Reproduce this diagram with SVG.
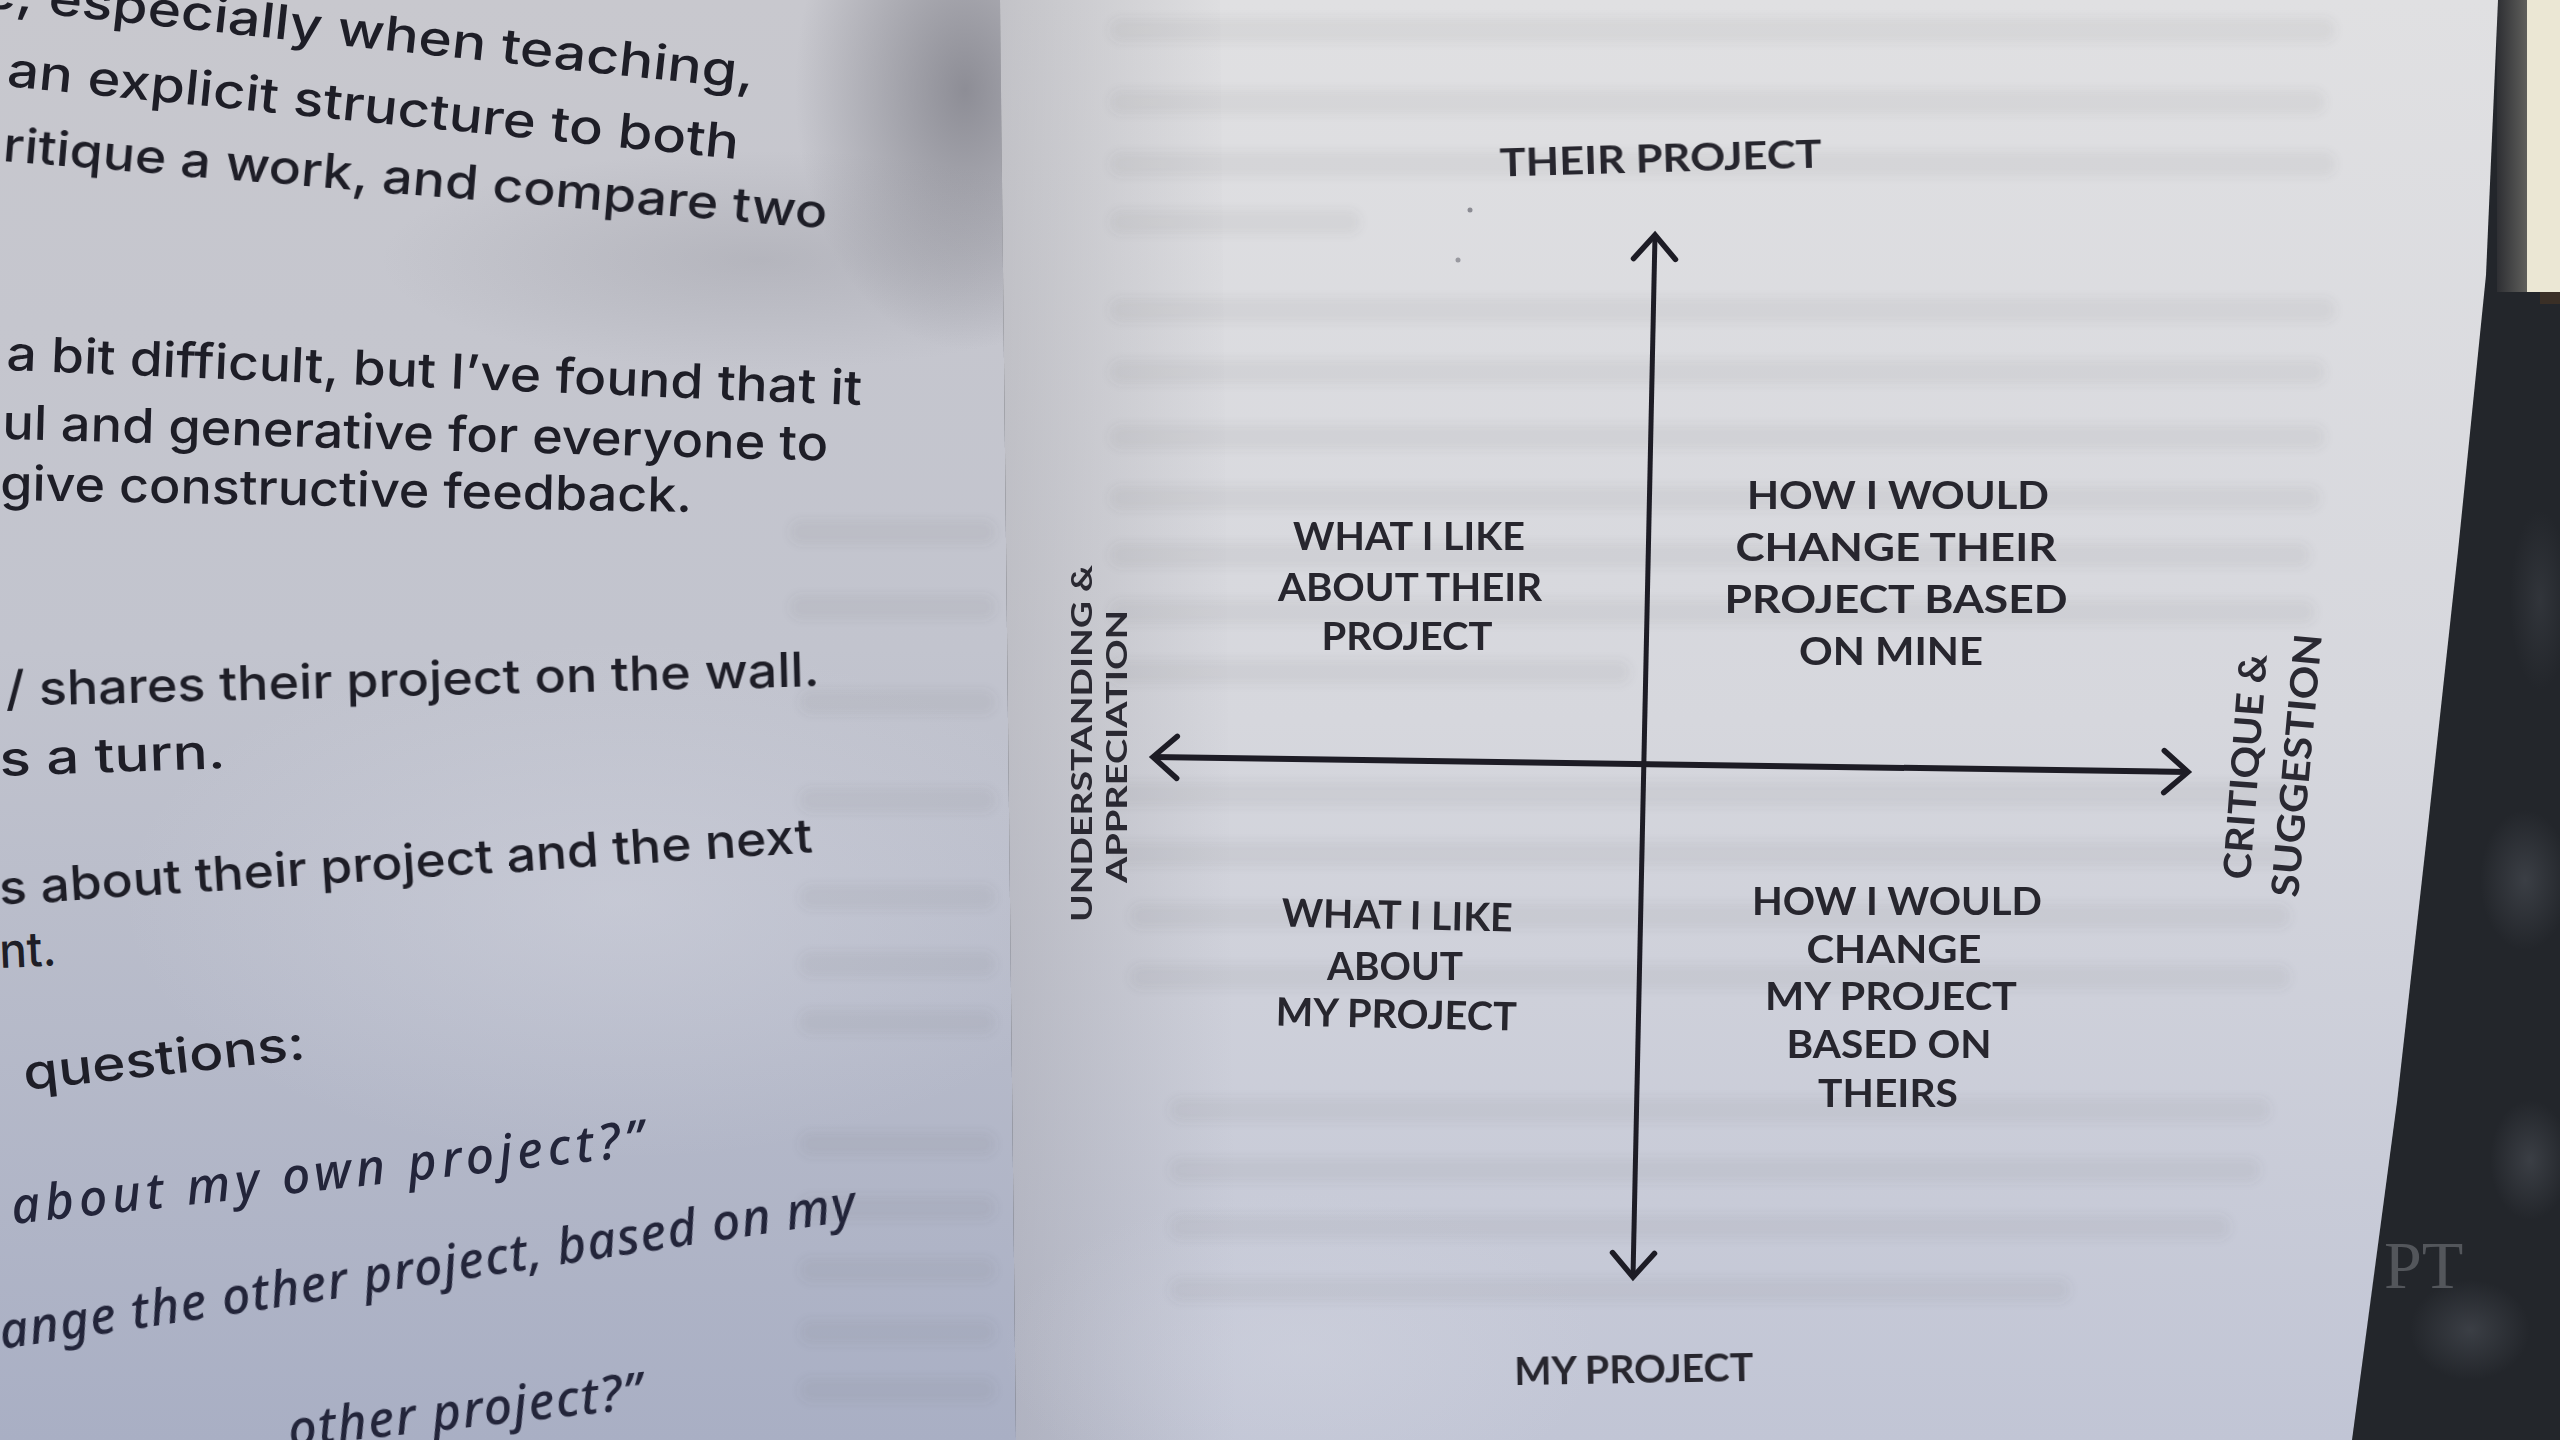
<svg xmlns="http://www.w3.org/2000/svg" width="2560" height="1440" viewBox="0 0 2560 1440">
  <style>
    .body { font-family: Inter, "Liberation Sans", sans-serif; font-weight: 500; font-size: 48px; fill: #1e1e27; }
    .ital { font-family: "Noto Sans", "Open Sans", sans-serif; font-style: italic; font-weight: 500; font-size: 50px; fill: #23253a; }
    .lbl { font-family: Lato, "Noto Sans", sans-serif; font-weight: 700; font-size: 39px; fill: #27262e; text-anchor: middle; }
    .side { font-family: Lato, "Noto Sans", sans-serif; font-weight: 700; fill: #2a2932; text-anchor: middle; }
    .axis { fill: none; stroke: #1d1c25; }
    .ghost { fill: #4e4e5e; opacity: 0.07; }
  </style>
  <defs>
    <linearGradient id="leftPage" x1="0" y1="0" x2="0" y2="1">
      <stop offset="0" stop-color="#c8c8ce"/>
      <stop offset="0.45" stop-color="#c2c4ce"/>
      <stop offset="1" stop-color="#a9afc4"/>
    </linearGradient>
    <linearGradient id="rightPage" x1="0" y1="0" x2="0" y2="1">
      <stop offset="0" stop-color="#e0e0e2"/>
      <stop offset="0.5" stop-color="#d6d7dd"/>
      <stop offset="1" stop-color="#c1c5d5"/>
    </linearGradient>
    <linearGradient id="gutterRight" x1="0" y1="0" x2="1" y2="0">
      <stop offset="0" stop-color="#8c8c96" stop-opacity="0.35"/>
      <stop offset="1" stop-color="#8c8c96" stop-opacity="0"/>
    </linearGradient>
    <radialGradient id="shadowBlob" cx="0.5" cy="0.5" r="0.5">
      <stop offset="0" stop-color="#7a7a83" stop-opacity="0.75"/>
      <stop offset="1" stop-color="#7a7a83" stop-opacity="0"/>
    </radialGradient>
    <radialGradient id="lightBlob" cx="0.5" cy="0.5" r="0.5">
      <stop offset="0" stop-color="#d6d8e2" stop-opacity="0.7"/>
      <stop offset="1" stop-color="#d6d8e2" stop-opacity="0"/>
    </radialGradient>
    <radialGradient id="clothLight" cx="0.5" cy="0.5" r="0.5">
      <stop offset="0" stop-color="#454950" stop-opacity="0.7"/>
      <stop offset="1" stop-color="#454950" stop-opacity="0"/>
    </radialGradient>
    <linearGradient id="edgeShade" x1="0" y1="0" x2="1" y2="0">
      <stop offset="0" stop-color="#2e2f33"/>
      <stop offset="1" stop-color="#5f5f5c"/>
    </linearGradient>
    <filter id="soft" x="-10%" y="-50%" width="120%" height="200%">
      <feGaussianBlur stdDeviation="5"/>
    </filter>
    <marker id="chevron" markerUnits="userSpaceOnUse" viewBox="-40 -30 50 60" markerWidth="50" markerHeight="60" refX="0" refY="0" orient="auto-start-reverse">
      <path d="M -24 -21 L 0 0 L -24 21" fill="none" stroke="#1d1c25" stroke-width="5.5" stroke-linecap="round" stroke-linejoin="miter"/>
    </marker>
  </defs>

  <!-- surroundings: dark cloth, cream strip top right -->
  <g id="background">
    <rect x="0" y="0" width="2560" height="1440" fill="#23262b"/>
    <rect x="2527" y="0" width="33" height="292" fill="#ebe7d4"/>
    <rect x="2497" y="0" width="30" height="292" fill="url(#edgeShade)"/>
    <rect x="2540" y="292" width="20" height="12" fill="#3a2f26"/>
    <ellipse cx="2525" cy="880" rx="45" ry="70" fill="url(#clothLight)"/>
    <ellipse cx="2530" cy="1160" rx="40" ry="60" fill="url(#clothLight)"/>
    <ellipse cx="2470" cy="1330" rx="60" ry="50" fill="url(#clothLight)"/>
    <ellipse cx="2540" cy="600" rx="30" ry="90" fill="url(#clothLight)" opacity="0.6"/>
    <text x="2384" y="1288" font-family="Liberation Serif, serif" font-size="68" fill="#8d9096" opacity="0.45">PT</text>

    <!-- left (facing) page -->
    <polygon points="0,0 1000,0 1016,1440 0,1440" fill="url(#leftPage)"/>
    <ellipse cx="965" cy="90" rx="170" ry="260" fill="url(#shadowBlob)"/>
    <ellipse cx="760" cy="260" rx="380" ry="110" fill="url(#shadowBlob)" opacity="0.3"/>
    <ellipse cx="620" cy="900" rx="500" ry="260" fill="url(#lightBlob)" opacity="0.6"/>

    <!-- right page with the diagram -->
    <polygon points="1000,0 2498,0 2486,275 2458,551 2428,826 2397,1102 2352,1440 1016,1440" fill="url(#rightPage)"/>
    <polygon points="1000,0 1220,0 1236,1440 1016,1440" fill="url(#gutterRight)"/>
    <ellipse cx="1300" cy="1350" rx="300" ry="160" fill="url(#lightBlob)" opacity="0.5"/>
  </g>

  <!-- faint print showing through from the reverse side -->
  <g id="show-through" filter="url(#soft)">
    <rect class="ghost" x="1110" y="18" width="1225" height="24" rx="10"/>
    <rect class="ghost" x="1110" y="90" width="1215" height="24" rx="10"/>
    <rect class="ghost" x="1110" y="152" width="1225" height="24" rx="10"/>
    <rect class="ghost" x="1110" y="210" width="250" height="24" rx="10"/>
    <rect class="ghost" x="1110" y="298" width="1225" height="24" rx="10"/>
    <rect class="ghost" x="1110" y="360" width="1215" height="24" rx="10"/>
    <rect class="ghost" x="1110" y="425" width="1215" height="24" rx="10"/>
    <rect class="ghost" x="1110" y="486" width="1210" height="24" rx="10"/>
    <rect class="ghost" x="1110" y="543" width="1200" height="24" rx="10"/>
    <rect class="ghost" x="1110" y="600" width="1205" height="24" rx="10"/>
    <rect class="ghost" x="1110" y="660" width="520" height="24" rx="10"/>
    <rect class="ghost" x="1110" y="782" width="1190" height="24" rx="10"/>
    <rect class="ghost" x="1110" y="842" width="1180" height="24" rx="10"/>
    <rect class="ghost" x="1130" y="904" width="1160" height="24" rx="10"/>
    <rect class="ghost" x="1130" y="965" width="1160" height="24" rx="10"/>
    <rect class="ghost" x="1170" y="1098" width="1100" height="24" rx="10"/>
    <rect class="ghost" x="1170" y="1158" width="1090" height="24" rx="10"/>
    <rect class="ghost" x="1170" y="1215" width="1060" height="24" rx="10"/>
    <rect class="ghost" x="1170" y="1278" width="900" height="24" rx="10"/>
    <rect class="ghost" x="790" y="520" width="205" height="24" rx="10"/>
    <rect class="ghost" x="790" y="595" width="205" height="24" rx="10"/>
    <rect class="ghost" x="800" y="690" width="195" height="24" rx="10"/>
    <rect class="ghost" x="800" y="788" width="195" height="24" rx="10"/>
    <rect class="ghost" x="800" y="885" width="195" height="24" rx="10"/>
    <rect class="ghost" x="800" y="952" width="195" height="24" rx="10"/>
    <rect class="ghost" x="800" y="1010" width="195" height="24" rx="10"/>
    <rect class="ghost" x="800" y="1132" width="195" height="24" rx="10"/>
    <rect class="ghost" x="800" y="1196" width="195" height="24" rx="10"/>
    <rect class="ghost" x="800" y="1258" width="195" height="24" rx="10"/>
    <rect class="ghost" x="800" y="1320" width="195" height="24" rx="10"/>
    <rect class="ghost" x="800" y="1378" width="195" height="24" rx="10"/>
  </g>
  <circle cx="1470" cy="210" r="2.5" fill="#55555f" opacity="0.6"/>
  <circle cx="1458" cy="260" r="2.5" fill="#55555f" opacity="0.5"/>

  <!-- running text on the facing page -->
  <g id="facing-page-text">
    <text class="body" x="-18" y="7" transform="rotate(6.1 -18 7)" textLength="775" lengthAdjust="spacingAndGlyphs">e, especially when teaching,</text>
    <text class="body" x="6" y="86" transform="rotate(5.7 6 86)" textLength="735" lengthAdjust="spacingAndGlyphs">an explicit structure to both</text>
    <text class="body" x="2" y="161" transform="rotate(4.7 2 161)" textLength="827" lengthAdjust="spacingAndGlyphs">ritique a work, and compare two</text>
    <text class="body" x="6" y="370" transform="rotate(2.35 6 370)" textLength="856" lengthAdjust="spacingAndGlyphs">a bit difficult, but I’ve found that it</text>
    <text class="body" x="2" y="439" transform="rotate(1.5 2 439)" textLength="826" lengthAdjust="spacingAndGlyphs">ul and generative for everyone to</text>
    <text class="body" x="0" y="500" transform="rotate(1 0 500)" textLength="692" lengthAdjust="spacingAndGlyphs">give constructive feedback.</text>
    <text class="body" x="6" y="706" transform="rotate(-1.4 6 706)" textLength="814" lengthAdjust="spacingAndGlyphs">/ shares their project on the wall.</text>
    <text class="body" x="0" y="776" transform="rotate(-2 0 776)" textLength="226" lengthAdjust="spacingAndGlyphs">s a turn.</text>
    <text class="body" x="0" y="905" transform="rotate(-3.7 0 905)" textLength="815" lengthAdjust="spacingAndGlyphs">s about their project and the next</text>
    <text class="body" x="0" y="968" transform="rotate(-2.5 0 968)" textLength="57" lengthAdjust="spacingAndGlyphs">nt.</text>
    <text class="body" x="25" y="1090" transform="rotate(-6.3 25 1090)" textLength="283" lengthAdjust="spacingAndGlyphs">questions:</text>
    <text class="ital" x="13" y="1224" transform="rotate(-6.2 13 1224)" textLength="636" lengthAdjust="spacing">about my own project?”</text>
    <text class="ital" x="2" y="1349" transform="rotate(-8.6 2 1349)" textLength="865" lengthAdjust="spacing">ange the other project, based on my</text>
    <text class="ital" x="290" y="1447" transform="rotate(-6.3 290 1447)" textLength="356" lengthAdjust="spacing">other project?”</text>
  </g>

  <!-- the two axes -->
  <g id="connectors">
    <line id="axis-vertical" class="axis" x1="1633" y1="1277" x2="1655" y2="235" stroke-width="5" marker-start="url(#chevron)" marker-end="url(#chevron)"/>
    <line id="axis-horizontal" class="axis" x1="1153" y1="757" x2="2188" y2="772" stroke-width="6" marker-start="url(#chevron)" marker-end="url(#chevron)"/>
  </g>

  <!-- axis end labels -->
  <g id="node-their-project">
    <text class="lbl" x="1661" y="172" font-size="40" transform="rotate(-1.6 1661 172)" textLength="322" lengthAdjust="spacingAndGlyphs">THEIR PROJECT</text>
  </g>
  <g id="node-my-project">
    <text class="lbl" x="1634" y="1383" font-size="36" transform="rotate(-1 1634 1383)" textLength="239" lengthAdjust="spacingAndGlyphs">MY PROJECT</text>
  </g>
  <g id="node-understanding">
    <text class="side" font-size="28" transform="translate(1092 743.5) rotate(-90)" textLength="357" lengthAdjust="spacingAndGlyphs">UNDERSTANDING &amp;</text>
    <text class="side" font-size="28" transform="translate(1127 746.5) rotate(-90)" textLength="273" lengthAdjust="spacingAndGlyphs">APPRECIATION</text>
  </g>
  <g id="node-critique">
    <text class="side" font-size="38" transform="translate(2258.5 767.5) rotate(-85.7)" textLength="226" lengthAdjust="spacingAndGlyphs">CRITIQUE &amp;</text>
    <text class="side" font-size="38" transform="translate(2310 766.5) rotate(-84.8)" textLength="264" lengthAdjust="spacingAndGlyphs">SUGGESTION</text>
  </g>

  <!-- quadrant texts -->
  <g id="node-like-their">
    <text class="lbl" x="1409" y="550" textLength="232" lengthAdjust="spacingAndGlyphs">WHAT I LIKE</text>
    <text class="lbl" x="1410" y="601" textLength="264" lengthAdjust="spacingAndGlyphs">ABOUT THEIR</text>
    <text class="lbl" x="1407" y="650" textLength="171" lengthAdjust="spacingAndGlyphs">PROJECT</text>
  </g>
  <g id="node-change-their">
    <text class="lbl" x="1898" y="509" textLength="302" lengthAdjust="spacingAndGlyphs">HOW I WOULD</text>
    <text class="lbl" x="1896" y="561" textLength="321" lengthAdjust="spacingAndGlyphs">CHANGE THEIR</text>
    <text class="lbl" x="1896" y="613" textLength="343" lengthAdjust="spacingAndGlyphs">PROJECT BASED</text>
    <text class="lbl" x="1891" y="665" textLength="184" lengthAdjust="spacingAndGlyphs">ON MINE</text>
  </g>
  <g id="node-like-mine">
    <text class="lbl" x="1397" y="929" transform="rotate(1.2 1397 929)" textLength="231" lengthAdjust="spacingAndGlyphs">WHAT I LIKE</text>
    <text class="lbl" x="1395" y="980" textLength="136" lengthAdjust="spacingAndGlyphs">ABOUT</text>
    <text class="lbl" x="1396" y="1028" transform="rotate(1.2 1396 1028)" textLength="241" lengthAdjust="spacingAndGlyphs">MY PROJECT</text>
  </g>
  <g id="node-change-mine">
    <text class="lbl" x="1897" y="915" textLength="290" lengthAdjust="spacingAndGlyphs">HOW I WOULD</text>
    <text class="lbl" x="1894" y="963" textLength="175" lengthAdjust="spacingAndGlyphs">CHANGE</text>
    <text class="lbl" x="1891" y="1010" textLength="252" lengthAdjust="spacingAndGlyphs">MY PROJECT</text>
    <text class="lbl" x="1889" y="1058" textLength="205" lengthAdjust="spacingAndGlyphs">BASED ON</text>
    <text class="lbl" x="1888" y="1107" textLength="140" lengthAdjust="spacingAndGlyphs">THEIRS</text>
  </g>
</svg>
